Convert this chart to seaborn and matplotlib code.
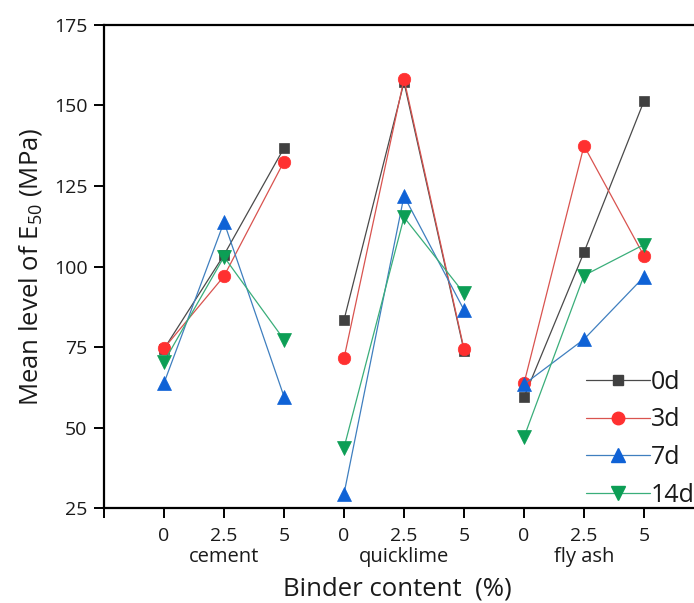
import matplotlib
matplotlib.use("Agg")
import matplotlib.pyplot as plt
from matplotlib.lines import Line2D
from matplotlib import transforms
import pandas as pd
import seaborn as sns

# Binder types and dosages along the x axis
binders = ["cement", "quicklime", "fly ash"]
contents = ["0", "2.5", "5"]
ages = ["0d", "3d", "7d", "14d"]

# Mean E50 (MPa) for each curing age, ordered binder by binder, dosage 0 / 2.5 / 5
e50_0d = [74.4, 103.6, 136.8, 83.4, 157.2, 73.9, 59.4, 104.4, 151.4]
e50_3d = [74.6, 97.0, 132.6, 71.5, 158.2, 74.4, 63.7, 137.5, 103.3]
e50_7d = [63.8, 113.8, 59.6, 29.4, 121.9, 86.5, 63.4, 77.4, 96.8]
e50_14d = [70.4, 103.0, 77.3, 43.7, 115.3, 91.7, 47.0, 97.2, 106.8]

values = {"0d": e50_0d, "3d": e50_3d, "7d": e50_7d, "14d": e50_14d}

rows = []
for age in ages:
    for i, b in enumerate(binders):
        for j, c in enumerate(contents):
            rows.append({"age": age, "binder": b, "content": c,
                         "pos": 3 * i + j, "value": values[age][3 * i + j]})
df = pd.DataFrame(rows)

sns.set_theme(style="white")
plt.rcParams["font.family"] = ["Open Sans", "DejaVu Sans"]
plt.rcParams["mathtext.default"] = "regular"

line_colors = {"0d": "#4a4a4a", "3d": "#d9534f", "7d": "#3f7fbf", "14d": "#3aae7a"}
mark_colors = {"0d": "#404040", "3d": "#ff3030", "7d": "#0f62d6", "14d": "#0c9e55"}
markers = {"0d": "s", "3d": "o", "7d": "^", "14d": "v"}
msizes = {"0d": 7.5, "3d": 9, "7d": 9.5, "14d": 9.5}

fig = plt.figure(figsize=(6.94, 6.03), dpi=100)
W, H = 694, 603
ax = fig.add_axes([104 / W, 1 - 508 / H, 630 / W, 483 / H])

for age in ages:
    sub = df[df["age"] == age]
    sns.lineplot(data=sub, x="pos", y="value", units="binder", estimator=None,
                 sort=False, color=line_colors[age], lw=0.9,
                 marker=markers[age], markersize=msizes[age],
                 markerfacecolor=mark_colors[age], markeredgecolor=mark_colors[age],
                 markeredgewidth=0.5, legend=False, ax=ax)

ax.set_xlim(-1, 9.5)
ax.set_ylim(25, 175)
ax.set_yticks([25, 50, 75, 100, 125, 150, 175])
ax.set_xticks([-1] + list(range(9)))
ax.set_xticklabels([""] + contents * 3)

for side in ["left", "bottom", "top"]:
    ax.spines[side].set_color("black")
    ax.spines[side].set_linewidth(1.6)
ax.spines["right"].set_visible(False)
ax.tick_params(axis="both", direction="out", length=7, width=1.4, colors="black",
               labelsize=14, left=True, bottom=True)
ax.tick_params(axis="x", pad=7)
ax.tick_params(axis="y", pad=5)
for lab in ax.get_xticklabels() + ax.get_yticklabels():
    lab.set_color("#1a1a1a")

trans = transforms.blended_transform_factory(ax.transData, ax.transAxes)
for i, b in enumerate(binders):
    ax.text(3 * i + 1, -(557 - 508) / 483, b, transform=trans, ha="center",
            va="center", fontsize=14.5, color="#1a1a1a")

ax.set_xlabel("Binder content  (%)", fontsize=18.5, color="#1a1a1a", va="center")
ax.xaxis.set_label_coords((397 - 104) / 630, -(589 - 508) / 483)
ax.set_ylabel("Mean level of E$_{50}$ (MPa)", fontsize=18.5, color="#1a1a1a",
              va="center")
ax.yaxis.set_label_coords(-(104 - 31) / 630, 0.5)

handles = [Line2D([0], [0], color=line_colors[a], lw=0.9, marker=markers[a],
                  markersize=msizes[a], markerfacecolor=mark_colors[a],
                  markeredgecolor=mark_colors[a]) for a in ages]
fig.legend(handles, ages, loc="upper left",
           bbox_to_anchor=(586 / W, 1 - 370 / H), frameon=False,
           fontsize=18, handlelength=2.55, handletextpad=0.05,
           labelspacing=0.5, borderpad=0, borderaxespad=0, labelcolor="#1a1a1a")

fig.savefig("out.png", dpi=100)
